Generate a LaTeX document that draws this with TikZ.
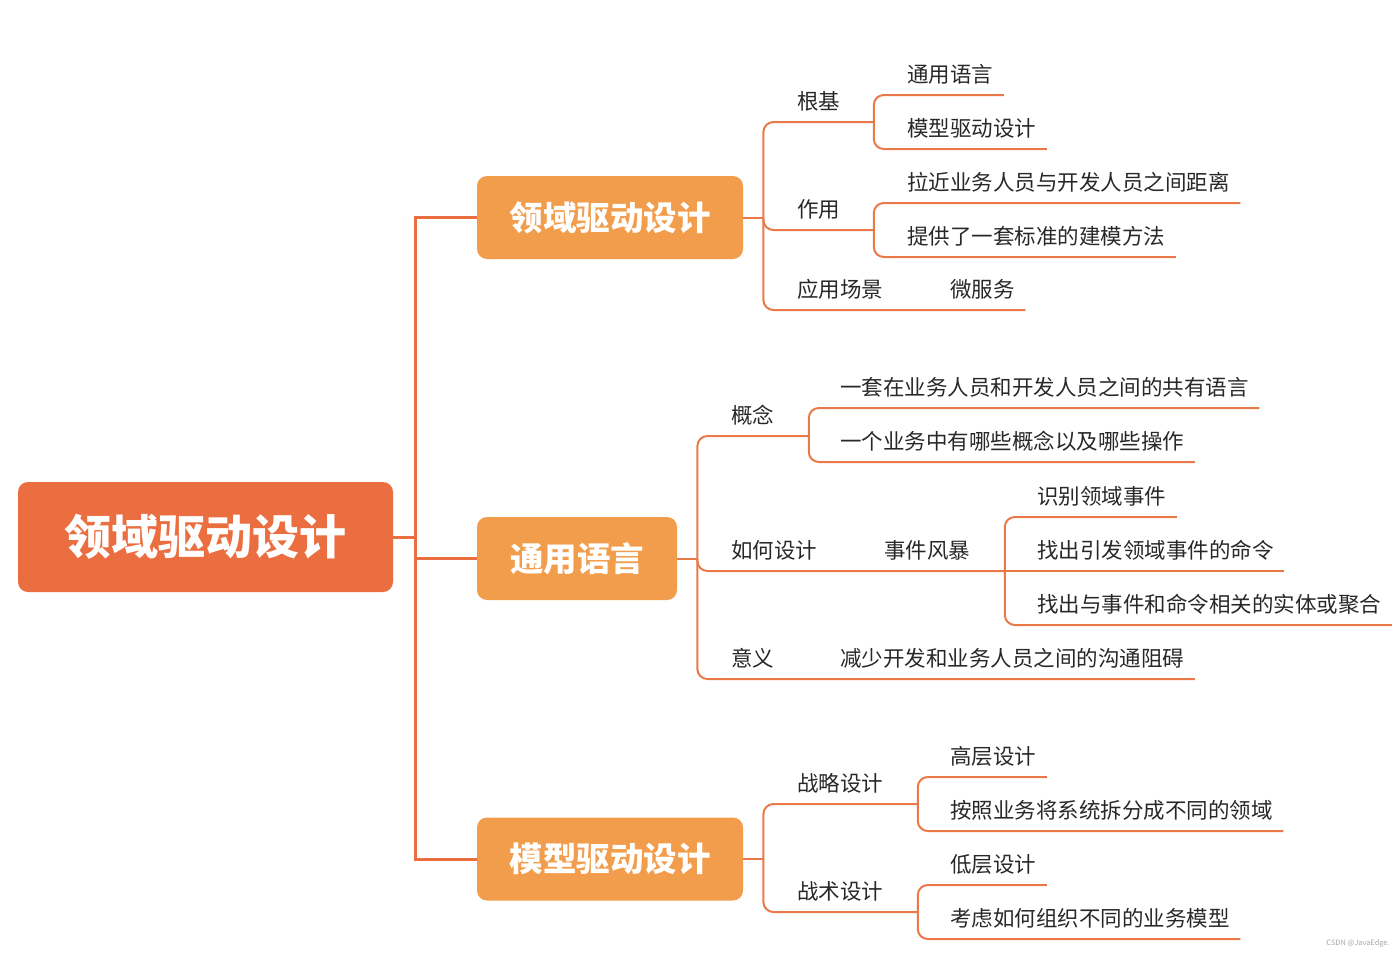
\documentclass[tikz,border=0pt]{standalone}
\usepackage{fontspec}
\setmainfont{Noto Sans CJK SC}
\usepackage{tikz}
\usetikzlibrary{positioning}
\definecolor{rootc}{RGB}{235,110,64}
\definecolor{mainc}{RGB}{242,157,76}
\definecolor{linec}{RGB}{233,122,72}
\definecolor{txtc}{RGB}{40,40,40}

\begin{document}
\begin{tikzpicture}[x=0.5pt,y=-0.5pt,
  rootbox/.style={fill=rootc,rounded corners=5pt,text=white,minimum width=187.5pt,minimum height=55pt,font=\fontsize{23.5}{28}\selectfont\bfseries},
  mainbox/.style={fill=mainc,rounded corners=5pt,text=white,minimum height=41.5pt,font=\fontsize{16.75}{20}\selectfont\bfseries},
  topic/.style={anchor=south west,inner xsep=5pt,inner ysep=5pt,text depth=1pt,text=txtc,font=\fontsize{10.75}{13}\selectfont},
  trunk/.style={draw=rootc,line width=1.5pt},
  link/.style={draw=linec,line width=1pt,rounded corners=5pt}]
\useasboundingbox (0,0) rectangle (1400,953);

% central topic and main topics
\node[rootbox] (root) at (205.5,537) {领域驱动设计};
\node[mainbox,minimum width=133pt] (ddd) at (610,217.5) {领域驱动设计};
\node[mainbox,minimum width=100pt] (ul) at (577,558.5) {通用语言};
\node[mainbox,minimum width=133pt] (mdd) at (610,859) {模型驱动设计};
\coordinate (rj) at (415,537);
\draw[trunk] (root.east) -- (rj);
\draw[trunk] (ddd.west) -- (ddd.west -| rj) -- (mdd.west -| rj) -- (mdd.west);
\draw[trunk] (ul.west -| rj) -- (ul.west);

% 领域驱动设计
\node[topic] (gj) at (787,122) {根基};
\node[topic] (gj1) at (897,95) {通用语言};
\node[topic] (gj2) at (897,149) {模型驱动设计};
\node[topic] (zy) at (787,230) {作用};
\node[topic] (zy1) at (897,203) {拉近业务人员与开发人员之间距离};
\node[topic] (zy2) at (897,257) {提供了一套标准的建模方法};
\node[topic] (cj) at (787,310) {应用场景};
\node[topic] (cj1) at (940,310) {微服务};
\draw[link] (ddd.east) -- ++(20,0) coordinate (dddj);
\draw[link] (dddj) |- (gj.south west) -- (gj.south east) -- ++(23,0) coordinate (gjj);
\draw[link] (gjj) |- (gj1.south west) -- (gj1.south east);
\draw[link] (gjj) |- (gj2.south west) -- (gj2.south east);
\draw[link] (dddj) |- (zy.south west) -- (zy.south east) -- ++(23,0) coordinate (zyj);
\draw[link] (zyj) |- (zy1.south west) -- (zy1.south east);
\draw[link] (zyj) |- (zy2.south west) -- (zy2.south east);
\draw[link] (dddj) |- (cj.south west) -- (cj.south east) -- (cj1.south west) -- (cj1.south east);

% 通用语言
\node[topic] (gn) at (721,436) {概念};
\node[topic] (gn1) at (830,408) {一套在业务人员和开发人员之间的共有语言};
\node[topic] (gn2) at (830,462) {一个业务中有哪些概念以及哪些操作};
\node[topic] (rh) at (721,571) {如何设计};
\node[topic] (fb) at (874,571) {事件风暴};
\node[topic] (fb1) at (1027,517) {识别领域事件};
\node[topic] (fb2) at (1027,571) {找出引发领域事件的命令};
\node[topic] (fb3) at (1027,625) {找出与事件和命令相关的实体或聚合};
\node[topic] (yy) at (721,679) {意义};
\node[topic] (yy1) at (830,679) {减少开发和业务人员之间的沟通阻碍};
\draw[link] (ul.east) -- ++(20,0) coordinate (ulj);
\draw[link] (ulj) |- (gn.south west) -- (gn.south east) -- ++(24,0) coordinate (gnj);
\draw[link] (gnj) |- (gn1.south west) -- (gn1.south east);
\draw[link] (gnj) |- (gn2.south west) -- (gn2.south east);
\draw[link] (ulj) |- (rh.south west) -- (rh.south east) -- (fb.south west) -- (fb.south east) -- ++(24,0) coordinate (fbj);
\draw[link] (fbj) |- (fb1.south west) -- (fb1.south east);
\draw[link] (fbj) -- (fb2.south west) -- (fb2.south east);
\draw[link] (fbj) |- (fb3.south west) -- (fb3.south east);
\draw[link] (ulj) |- (yy.south west) -- (yy.south east) -- (yy1.south west) -- (yy1.south east);

% 模型驱动设计
\node[topic] (zl) at (787,804) {战略设计};
\node[topic] (zl1) at (940,777) {高层设计};
\node[topic] (zl2) at (940,831) {按照业务将系统拆分成不同的领域};
\node[topic] (zs) at (787,912) {战术设计};
\node[topic] (zs1) at (940,885) {低层设计};
\node[topic] (zs2) at (940,939) {考虑如何组织不同的业务模型};
\draw[link] (mdd.east) -- ++(20,0) coordinate (mddj);
\draw[link] (mddj) |- (zl.south west) -- (zl.south east) -- ++(24,0) coordinate (zlj);
\draw[link] (zlj) |- (zl1.south west) -- (zl1.south east);
\draw[link] (zlj) |- (zl2.south west) -- (zl2.south east);
\draw[link] (mddj) |- (zs.south west) -- (zs.south east) -- ++(24,0) coordinate (zsj);
\draw[link] (zsj) |- (zs1.south west) -- (zs1.south east);
\draw[link] (zsj) |- (zs2.south west) -- (zs2.south east);

\node[text=gray!70,font=\fontsize{3.7}{4}\selectfont] (wm) at (1358,943) {CSDN @JavaEdge.};
\end{tikzpicture}
\end{document}
